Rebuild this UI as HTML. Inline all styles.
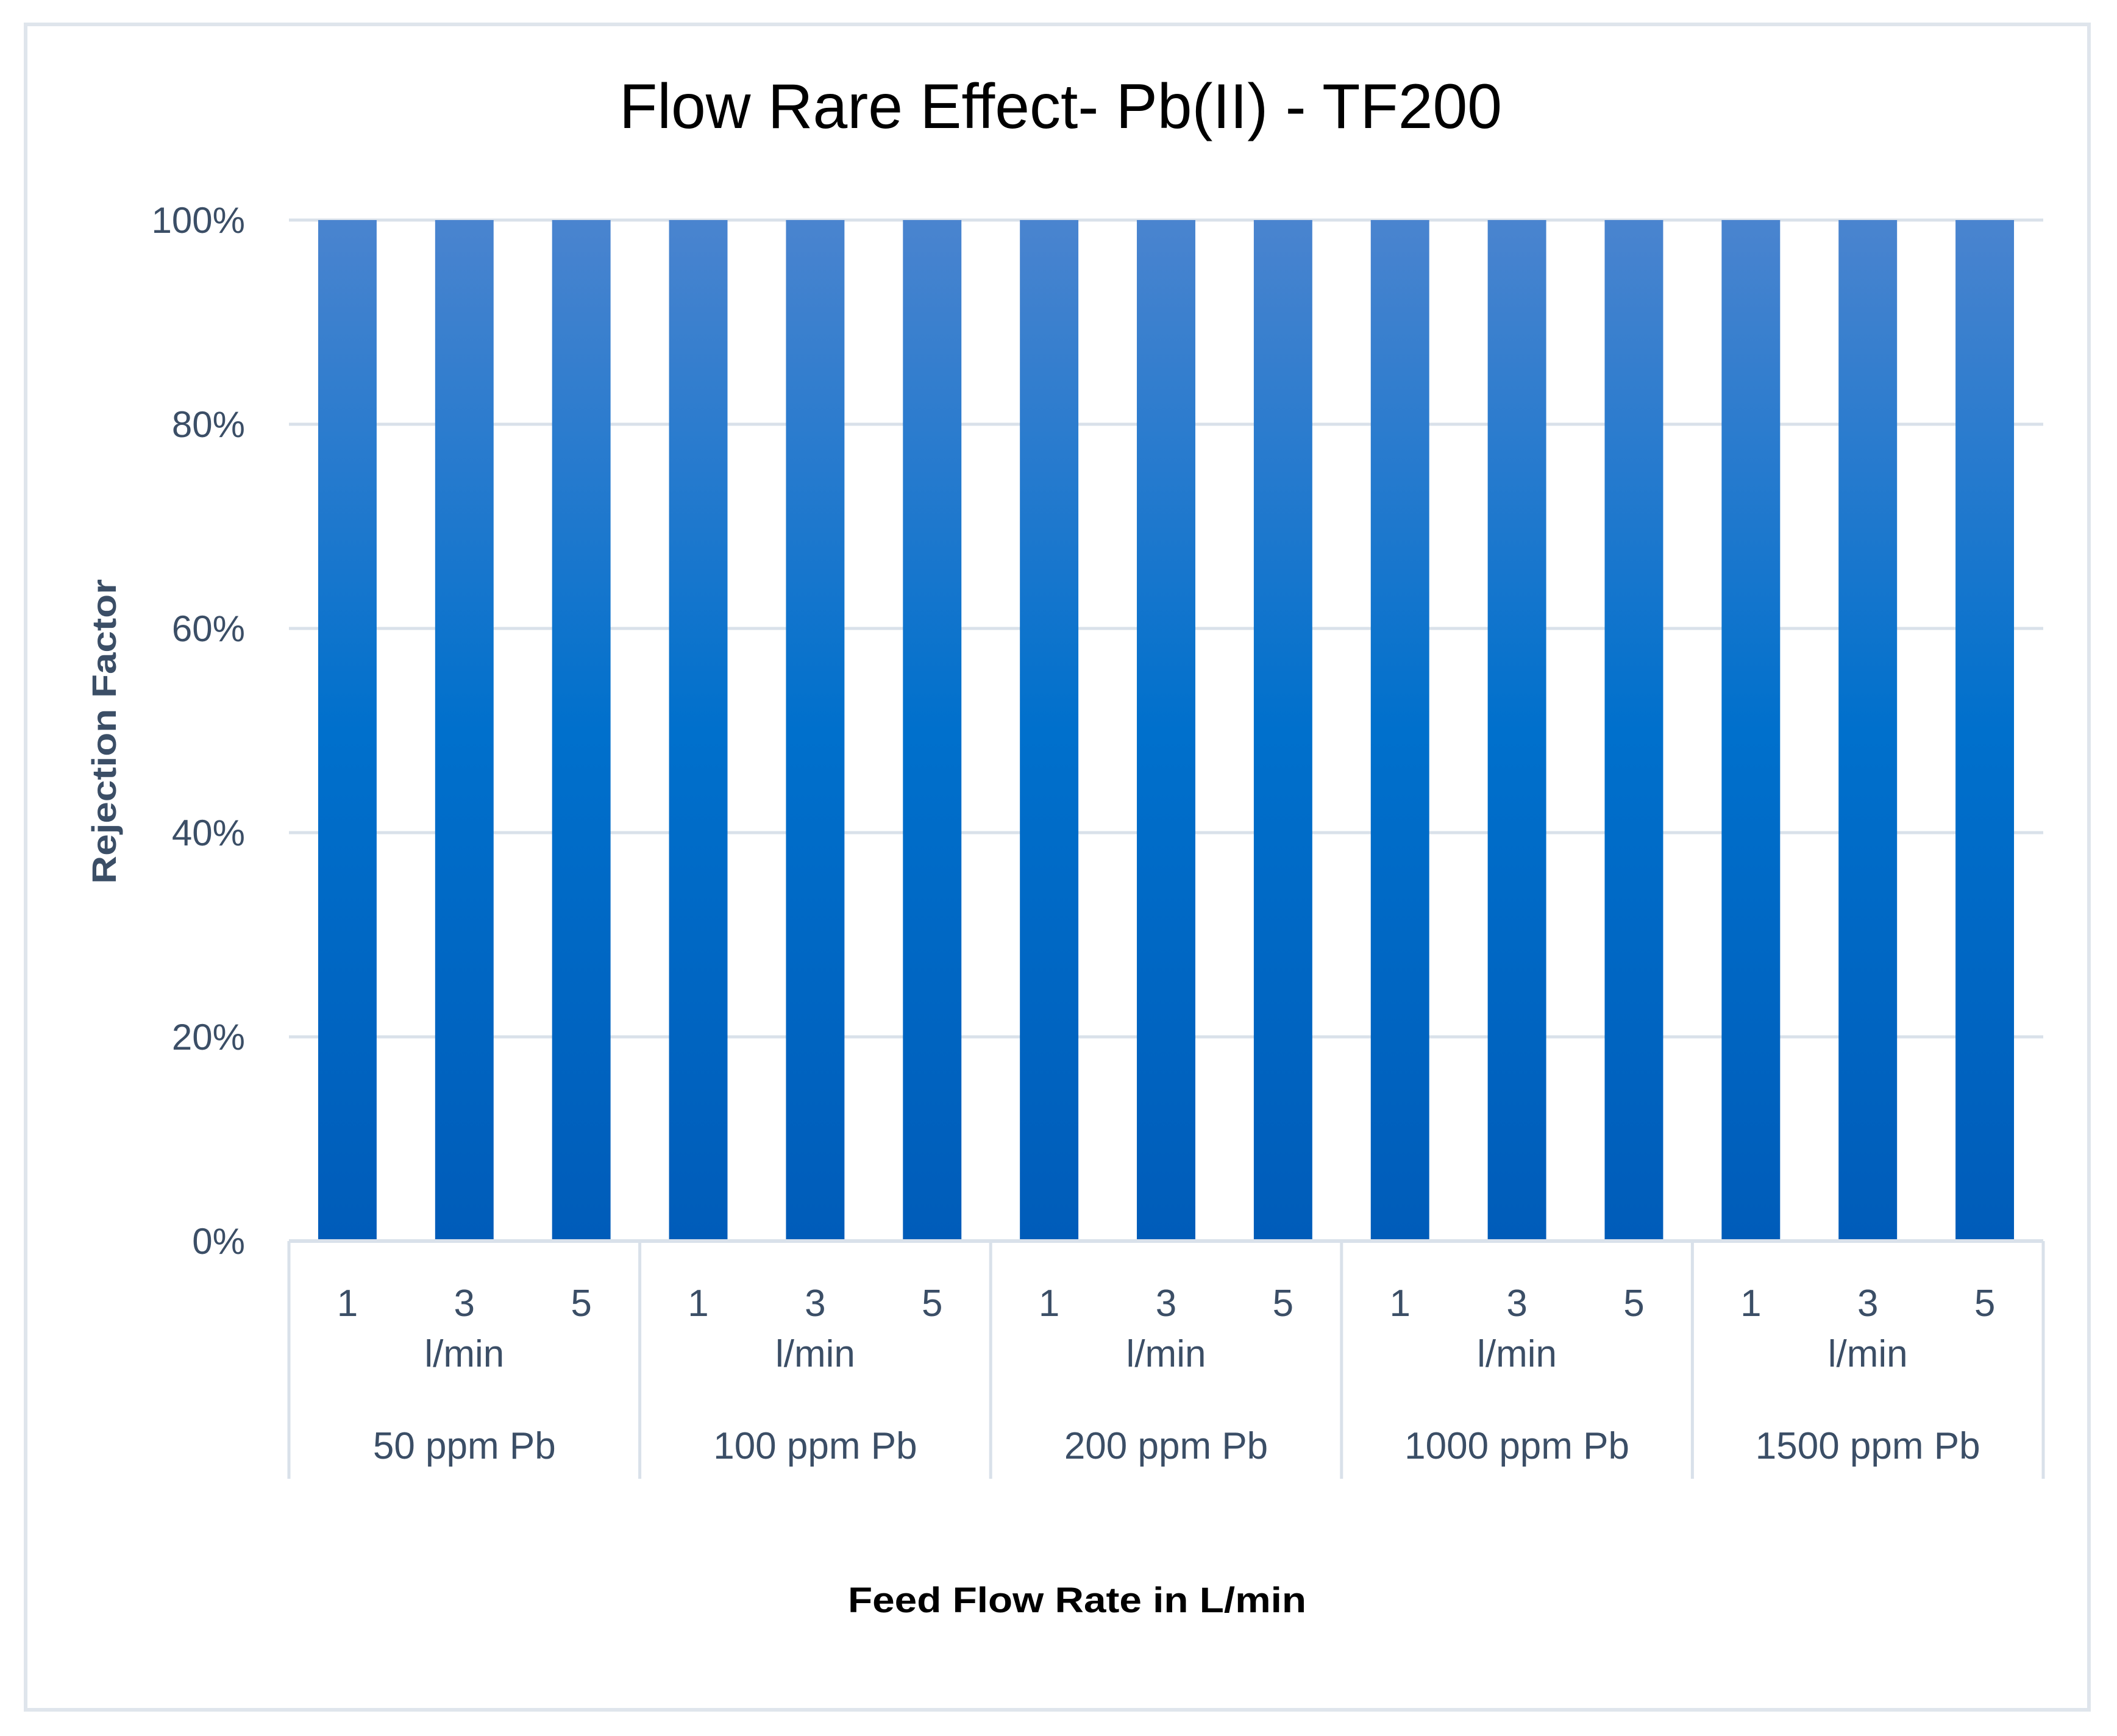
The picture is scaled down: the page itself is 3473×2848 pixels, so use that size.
<!DOCTYPE html>
<html><head><meta charset="utf-8"><style>
html,body{margin:0;padding:0;background:#fff;}
svg{display:block;font-family:"Liberation Sans",sans-serif;}
</style></head><body>
<svg width="3473" height="2848" viewBox="0 0 3473 2848">
<defs>
<linearGradient id="barGrad" x1="0" y1="0" x2="0" y2="1">
<stop offset="0" stop-color="#4a84cf"/>
<stop offset="0.5" stop-color="#0070cc"/>
<stop offset="1" stop-color="#005cb9"/>
</linearGradient>
</defs>
<rect x="42" y="40" width="3385" height="2765" fill="#fff" stroke="#dfe5ec" stroke-width="6"/>
<text x="1740" y="210" font-size="104" text-anchor="middle" fill="#000" textLength="1448" lengthAdjust="spacingAndGlyphs">Flow Rare Effect- Pb(II) - TF200</text>
<g id="grid"></g>
<g id="bars"></g>
<g id="axis"></g>
<text transform="translate(190,1200) rotate(-90)" font-size="56" font-weight="bold" text-anchor="middle" fill="#3b4e66" textLength="500" lengthAdjust="spacingAndGlyphs">Rejection Factor</text>
<text x="1767" y="2645" font-size="58" font-weight="bold" text-anchor="middle" fill="#000" textLength="752" lengthAdjust="spacingAndGlyphs">Feed Flow Rate in L/min</text>
</svg>
<script>
const groups = ["50 ppm Pb","100 ppm Pb","200 ppm Pb","1000 ppm Pb","1500 ppm Pb"];
const flows = ["1","3","5"];
const values = [100,100,100,100,100,100,100,100,100,100,100,100,100,100,100];
const yTicks = [0,20,40,60,80,100];
const yTickLabels = ["0%","20%","40%","60%","80%","100%"];

const NS="http://www.w3.org/2000/svg";
const L=474,R=3352,T=361,B=2036;
const n=groups.length*flows.length;
const cw=(R-L)/n;
function y(v){return B-(v/100)*(B-T);}
function xc(i){return L+cw*(i+0.5);}
function mk(tag,attrs,parent,text){const e=document.createElementNS(NS,tag);for(const k in attrs)e.setAttribute(k,attrs[k]);if(text!==undefined)e.textContent=text;parent.appendChild(e);return e;}
const grid=document.getElementById('grid'),bars=document.getElementById('bars'),axis=document.getElementById('axis');
yTicks.forEach((t,i)=>{
  if(t>0){const g=mk('line',{x1:L,x2:R,y1:y(t),y2:y(t),stroke:'#d9e1ea','stroke-width':5},grid);
  
  }
  const lb=mk('text',{x:402,y:y(t)+21,'font-size':60,'text-anchor':'end',fill:'#3b4e66'},grid,yTickLabels[i]);
  
  
});
values.forEach((v,i)=>{
  const r=mk('rect',{x:xc(i)-cw/4,y:y(v),width:cw/2,height:B-y(v),fill:'url(#barGrad)'},bars);
  
  
  const f=mk('text',{x:xc(i),y:2159,'font-size':62,'text-anchor':'middle',fill:'#3b4e66'},axis,flows[i%flows.length]);
  
  
});
const ax=mk('line',{x1:L,x2:R,y1:B,y2:B,stroke:'#d9e1ea','stroke-width':6},axis);


const gw=(R-L)/groups.length;
for(let k=0;k<=groups.length;k++){
  const s=mk('line',{x1:L+gw*k,x2:L+gw*k,y1:B,y2:2426,stroke:'#d9e1ea','stroke-width':5},axis);
  
  
}
groups.forEach((g,k)=>{
  const cx=L+gw*(k+0.5);
  const u=mk('text',{x:cx,y:2242,'font-size':62,'text-anchor':'middle',fill:'#3b4e66'},axis,'l/min');
  
  
  const gl=mk('text',{x:cx,y:2393,'font-size':62,'text-anchor':'middle',fill:'#3b4e66'},axis,g);
  
  
});
</script>
</body></html>
